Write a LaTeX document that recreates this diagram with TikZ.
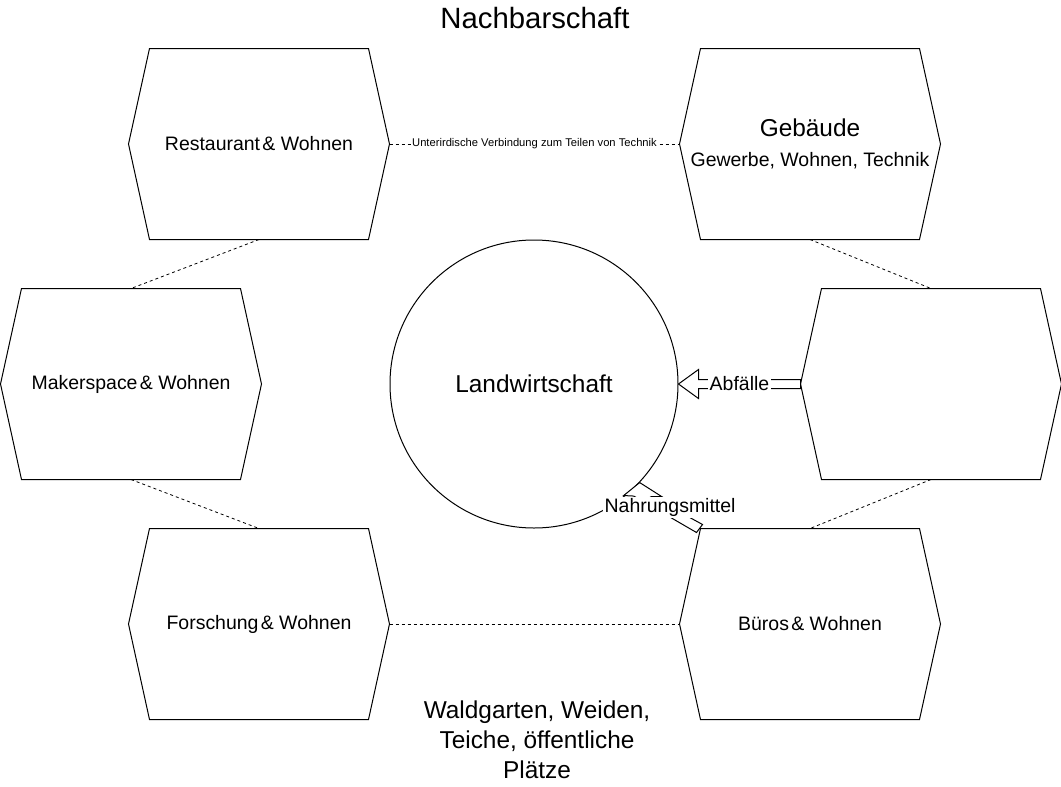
\documentclass[tikz,border=0pt]{standalone}
\usepackage{fontspec}
\setmainfont{Liberation Sans}
\usetikzlibrary{calc}
\newcommand{\hexoutline}[1]{\draw[hexline] ([xshift=15.75pt]#1.north west) -- ([xshift=-15.75pt]#1.north east) -- (#1.east) -- ([xshift=-15.75pt]#1.south east) -- ([xshift=15.75pt]#1.south west) -- (#1.west) -- cycle;}
\begin{document}
\begin{tikzpicture}[x=0.75pt,y=-0.75pt, line width=0.75pt,
 hexbox/.style={minimum width=195pt, minimum height=142.5pt, inner sep=0pt, font=\fontsize{14.6}{17.5}\selectfont, align=center},
 hexline/.style={draw=black, line width=0.75pt, line join=miter},
 link/.style={draw=black, dash pattern=on 2.25pt off 2.25pt, line width=0.6pt},
 lbl/.style={fill=white, inner sep=1pt, font=\fontsize{14.6}{17.5}\selectfont},
 blockarrow/.style={draw=black, fill=white, line width=0.75pt, line join=miter}]
\useasboundingbox (0,0) rectangle (1061,786);

% hexagon nodes
\node[hexbox] (rest) at (259,144) {Restaurant\hspace{0.12em}\& Wohnen};
\node[hexbox, font=\fontsize{14.6}{22.5}\selectfont] (geb) at (810,144) {{\fontsize{18.3}{22.5}\selectfont Gebäude}\\Gewerbe, Wohnen, Technik};
\node[hexbox] (maker) at (131,384) {Makerspace\hspace{0.12em}\& Wohnen};
\node[hexbox] (rm) at (931,384) {};
\node[hexbox] (forsch) at (259,624) {Forschung\hspace{0.12em}\& Wohnen};
\node[hexbox] (bueros) at (810,624) {Büros\hspace{0.12em}\& Wohnen};

\hexoutline{rest}
\hexoutline{geb}
\hexoutline{maker}
\hexoutline{rm}
\hexoutline{forsch}
\hexoutline{bueros}

% centre circle
\node[circle, draw, line width=0.75pt, minimum size=216pt, inner sep=0pt, font=\fontsize{18.3}{22}\selectfont] (land) at (534,384) {Landwirtschaft};

% dashed connections
\draw[link] (rest.south) -- (maker.north);
\draw[link] (maker.south) -- (forsch.north);
\draw[link] (geb.south) -- (rm.north);
\draw[link] (rm.south) -- (bueros.north);
\draw[link] (forsch.east) -- (bueros.west);
\draw[link] (rest.east) -- node[fill=white, inner sep=1pt, font=\fontsize{8.4}{10}\selectfont] (under) {Unterirdische Verbindung zum Teilen von Technik} (geb.west);

% Abfaelle block arrow
\draw[blockarrow] (land.east) -- ++(20,-14.5) -- ++(0,10) -- ($(rm.west)+(0,-4.5)$) -- ($(rm.west)+(0,4.5)$) -- ($(land.east)+(20,4.5)$) -- ++(0,10) -- cycle;
\node[lbl] (abf) at ($(land.east)!0.5!(rm.west)$) {Abfälle};

% Nahrungsmittel block arrow
\coordinate (nt) at (land.-43);
\coordinate (ns) at ([xshift=15.75pt]bueros.north west);
\draw[blockarrow] (nt) -- ($(nt)+(22,14)$) -- ($(nt)+(12,14)$)
  -- ($(ns)+(2,-4)$) -- ($(ns)+(-4,4)$)
  -- ($(nt)+(-6,13.5)$)
  -- ($(nt)+(-16,13)$) -- cycle;
\node[lbl] (nahr) at ($($(nt)!0.5!(ns)$)+(0,2)$) {Nahrungsmittel};

% free texts
\node[font=\fontsize{22}{26}\selectfont] (title) at (535,18) {Nachbarschaft};
\node[font=\fontsize{18.3}{22.4}\selectfont, align=center] (wald) at (537,740) {Waldgarten, Weiden,\\Teiche, öffentliche\\Plätze};
\end{tikzpicture}
\end{document}
